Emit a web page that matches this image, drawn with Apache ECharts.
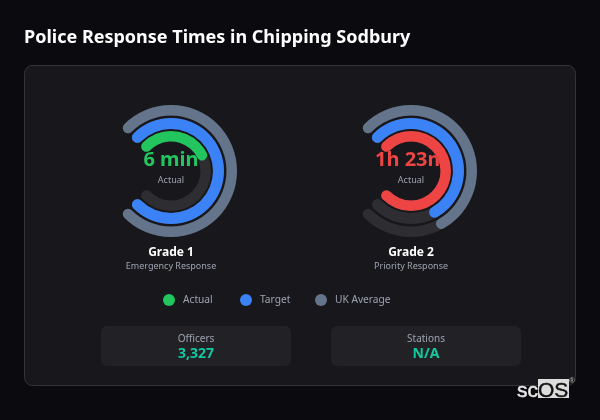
<!DOCTYPE html>
<html>
<head>
<meta charset="utf-8">
<style>
html, body { margin: 0; padding: 0; background: #0a0a0f; }
#main { width: 600px; height: 420px; }
</style>
<script src="https://cdn.jsdelivr.net/npm/echarts@6/dist/echarts.min.js"></script>
</head>
<body>
<div id="main"></div>
<script>
var chartTitle = 'Police Response Times in Chipping Sodbury';
var grades = ['Grade 1', 'Grade 2'];
var subtitles = ['Emergency Response', 'Priority Response'];
var actualLabels = ['6 min', '1h 23m'];
// minutes
var actualValues = [6, 83];
var targetValues = [15, 60];
var ukValues = [15, 60];
var actualColors = ['#22c55e', '#ef4444'];
var legendNames = ['Actual', 'Target', 'UK Average'];
var legendColors = ['#22c55e', '#3b82f6', '#64748b'];
var statNames = ['Officers', 'Stations'];
var statValues = ['3,327', 'N/A'];

var FONT = '"Noto Sans", sans-serif';
var centers = [171, 411];
var CY = 171;
var TRACK = '#2e2e32';
var legendLefts = [158, 235, 310];

function ring(name, i, value, max, color, radius, width) {
    return {
        type: 'gauge',
        name: name,
        center: [centers[i], CY],
        radius: radius,
        startAngle: 135,
        endAngle: -135,
        min: 0,
        max: max,
        silent: true,
        animation: false,
        pointer: { show: false },
        axisTick: { show: false },
        splitLine: { show: false },
        axisLabel: { show: false },
        title: { show: false },
        detail: { show: false },
        axisLine: { roundCap: true, lineStyle: { width: width, color: [[1, TRACK]] } },
        progress: { show: true, roundCap: true, width: width, itemStyle: { color: color } },
        data: [{ value: value }]
    };
}

var series = [];
var texts = [];
grades.forEach(function (g, i) {
    var max = Math.max(actualValues[i], targetValues[i], ukValues[i]);
    series.push(ring('UK Average', i, ukValues[i], max, '#64748b', 66, 10.5));
    series.push(ring('Target', i, targetValues[i], max, '#3b82f6', 53, 11));
    series.push(ring('Actual', i, actualValues[i], max, actualColors[i], 40, 10.5));
    texts.push({ type: 'text', x: centers[i], y: 160, style: { text: actualLabels[i], fill: actualColors[i], font: 'bold 20px ' + FONT, align: 'center', verticalAlign: 'middle' } });
    texts.push({ type: 'text', x: centers[i], y: 180, style: { text: 'Actual', fill: '#9ca3af', font: '9px ' + FONT, align: 'center', verticalAlign: 'middle' } });
    texts.push({ type: 'text', x: centers[i], y: 253, style: { text: g, fill: '#ffffff', font: 'bold 12px ' + FONT, align: 'center', verticalAlign: 'middle' } });
    texts.push({ type: 'text', x: centers[i], y: 266, style: { text: subtitles[i], fill: '#9ca3af', font: '9px ' + FONT, align: 'center', verticalAlign: 'middle' } });
    var cardX = [101, 331][i];
    texts.push({ type: 'rect', shape: { x: cardX, y: 326, width: 190, height: 40, r: 6 }, style: { fill: '#222226' } });
    texts.push({ type: 'text', x: cardX + 95, y: 339, style: { text: statNames[i], fill: '#9ca3af', font: '10px ' + FONT, align: 'center', verticalAlign: 'middle' } });
    texts.push({ type: 'text', x: cardX + 95, y: 354, style: { text: statValues[i], fill: '#10c9a0', font: 'bold 14px ' + FONT, align: 'center', verticalAlign: 'middle' } });
});

var legends = legendNames.map(function (name, i) {
    return {
        top: 289,
        left: legendLefts[i],
        itemWidth: 12,
        itemHeight: 12,
        icon: 'circle',
        selectedMode: false,
        textStyle: { color: '#9ca3af', fontFamily: FONT, fontSize: 10.2, padding: [0, 0, 0, 3] },
        data: [{ name: name, itemStyle: { color: legendColors[i] } }]
    };
});

var chart = echarts.init(document.getElementById('main'));
chart.setOption({
    backgroundColor: '#0a0a0f',
    animation: false,
    title: {
        text: chartTitle,
        left: 19,
        top: 24,
        textStyle: { color: '#ffffff', fontFamily: FONT, fontWeight: 'bold', fontSize: 18 }
    },
    legend: legends,
    graphic: {
        elements: [
            { type: 'rect', z: -1, shape: { x: 24.5, y: 65.5, width: 551, height: 320, r: 8 }, style: { fill: '#18181c', stroke: '#333338', lineWidth: 1 } },
            { type: 'group', z: 10, children: texts },
            { type: 'rect', z: 10, shape: { x: 538, y: 379, width: 31, height: 19 }, style: { fill: '#dcdcdc' } },
            { type: 'text', z: 11, x: 517, y: 391, style: { text: 'sc', fill: '#e8e8e8', font: '21px "Liberation Sans", sans-serif', stroke: '#e8e8e8', lineWidth: 0.5, verticalAlign: 'middle' } },
            { type: 'text', z: 11, x: 538, y: 391, style: { text: 'OS', fill: '#111111', font: '21px "Liberation Sans", sans-serif', stroke: '#111111', lineWidth: 0.4, verticalAlign: 'middle' } },
            { type: 'text', z: 11, x: 569, y: 381, style: { text: '®', fill: '#bbbbbb', font: '8px "Liberation Sans", sans-serif', verticalAlign: 'middle' } }
        ]
    },
    series: series
});
</script>
</body>
</html>
